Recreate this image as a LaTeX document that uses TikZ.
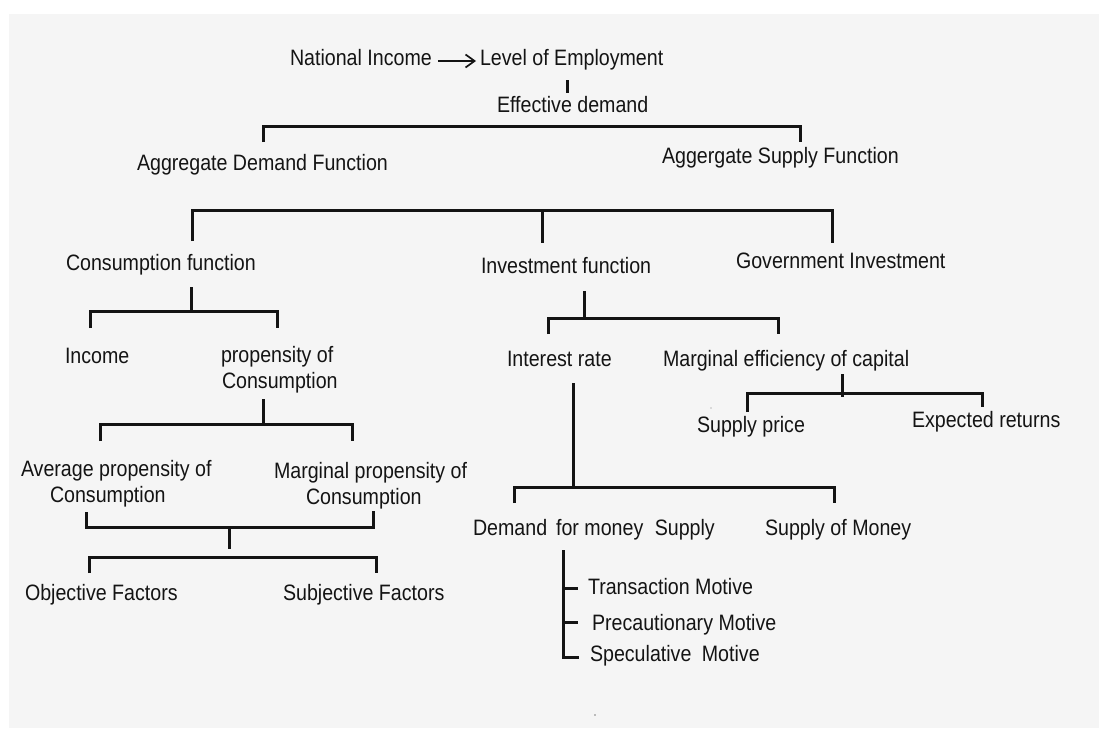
\documentclass[tikz,border=0pt]{standalone}
\usepackage{fontspec}
\newfontfamily\arialn[FakeStretch=0.88]{Liberation Sans}
\usetikzlibrary{arrows.meta}
\definecolor{bg}{HTML}{F5F5F5}
\definecolor{ink}{HTML}{141414}
\tikzset{
  lbl/.style={anchor=base west, inner sep=0pt, outer sep=0pt,
    font=\arialn\fontsize{22.3}{26}\selectfont, text=ink},
  br/.style={line width=3pt, draw=ink, line join=miter, line cap=butt},
  arr/.style={line width=2.2pt, draw=ink, -{Straight Barb[length=9pt,width=13pt,line width=1.7pt]}},
}
\begin{document}
\begin{tikzpicture}[x=1pt,y=-1pt]
\useasboundingbox (0,0) rectangle (1099,728);
\fill[white] (0,0) rectangle (1099,728);
\fill[bg] (9,14) rectangle (1099,728);

% texts
\node[lbl] (ni)   at (290,65)  {National Income};
\node[lbl] (le)   at (480,65)  {Level of Employment};
\node[lbl] (ed)   at (497,112) {Effective demand};
\node[lbl] (adf)  at (137,170) {Aggregate Demand Function};
\node[lbl] (asf)  at (662,163) {Aggergate Supply Function};
\node[lbl] (cf)   at (66,270)  {Consumption function};
\node[lbl] (inf)  at (481,273) {Investment function};
\node[lbl] (gi)   at (736,268) {Government Investment};
\node[lbl] (inc)  at (65,363)  {Income};
\node[lbl] (pc1)  at (221,362) {propensity of};
\node[lbl] (pc2)  at (222,388) {Consumption};
\node[lbl] (ir)   at (507,366) {Interest rate};
\node[lbl] (mec)  at (663,366) {Marginal efficiency of capital};
\node[lbl] (sp)   at (697,432) {Supply price};
\node[lbl] (er)   at (912,427) {Expected returns};
\node[lbl] (apc1) at (21,476)  {Average propensity of};
\node[lbl] (apc2) at (50,502)  {Consumption};
\node[lbl] (mpc1) at (274,478) {Marginal propensity of};
\node[lbl] (mpc2) at (306,504) {Consumption};
\node[lbl] (dm)   at (473,535) {Demand\hspace{3.5pt} for money\hspace{6pt} Supply};
\node[lbl] (smo)  at (765,535) {Supply of Money};
\node[lbl] (of)   at (25,600)  {Objective Factors};
\node[lbl] (sf)   at (283,600) {Subjective Factors};
\node[lbl] (tm)   at (588,594) {Transaction Motive};
\node[lbl] (pm)   at (592,630) {Precautionary Motive};
\node[lbl] (spm)  at (590,661) {Speculative\hspace{5pt} Motive};

% arrow and tick
\draw[arr] ([xshift=6pt,yshift=4pt]ni.base east) -- ([xshift=-4pt,yshift=4pt]le.base west);
\coordinate (t0) at (567,80); \coordinate (t1) at (567,93);
\draw[br] (t0) -- (t1);

% bracket 1
\draw[br] (263,142) -- (263,126) -- (800,126) -- (800,142);
% bracket 2
\draw[br] (192,241) -- (192,210) -- (832,210) -- (832,243);
\draw[br] (542,210) -- (542,243);
% consumption
\draw[br] (191,287) -- (191,311);
\draw[br] (90,328) -- (90,311) -- (277,311) -- (277,328);
% investment
\draw[br] (584,291) -- (584,318);
\draw[br] (548,334) -- (548,318) -- (778,318) -- (778,334);
% MEC
\draw[br] (842,374) -- (842,397);
\draw[br] (747,412) -- (747,393) -- (982,393) -- (982,407);
% interest rate
\draw[br] (573,383) -- (573,487);
\draw[br] (514,503) -- (514,487) -- (834,487) -- (834,503);
% propensity
\draw[br] (263,399) -- (263,424);
\draw[br] (100,441) -- (100,424) -- (352,424) -- (352,441);
% APC/MPC join
\draw[br] (86,512) -- (86,527) -- (373,527) -- (373,511);
\draw[br] (229,527) -- (229,549);
% factors
\draw[br] (89,573) -- (89,557) -- (376,557) -- (376,573);
% motives
\draw[br] (563,550) -- (563,657) -- (579,657);
\draw[br] (563,588) -- (578,588);
\draw[br] (563,622) -- (578,622);

% stray dots
\fill[gray] (595,715) circle (0.8);
\fill[gray] (711,408) circle (0.7);
\end{tikzpicture}
\end{document}
